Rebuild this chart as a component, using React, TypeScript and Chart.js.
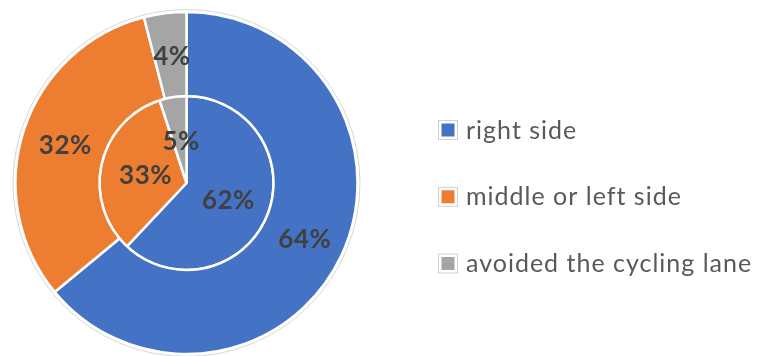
import React, { useEffect, useRef } from "react";
import { Chart, registerables } from "chart.js";

Chart.register(...registerables);

const categories = ["right side", "middle or left side", "avoided the cycling lane"];
const outerValues = [64, 32, 4];
const innerValues = [62, 33, 5];
const colors = ["#4472C4", "#ED7D31", "#A5A5A5"];

const W = 761;
const H = 356;

const labelPlugin = {
  id: "pctLabels",
  afterDatasetsDraw(chart: any) {
    const ctx = chart.ctx;
    ctx.save();
    // faint outer outline
    const meta0 = chart.getDatasetMeta(0);
    const a0 = meta0.data[0];
    if (a0) {
      ctx.beginPath();
      ctx.strokeStyle = "rgba(205,205,205,0.8)";
      ctx.lineWidth = 1;
      ctx.arc(a0.x, a0.y, a0.outerRadius + 2.5, 0, Math.PI * 2);
      ctx.stroke();
    }
    ctx.font = "bold 26px Lato, 'Open Sans', sans-serif";
    try { (ctx as any).letterSpacing = "0.5px"; } catch (e) {}
    ctx.fillStyle = "#404040";
    ctx.textAlign = "center";
    ctx.textBaseline = "middle";
    chart.data.datasets.forEach((ds: any, di: number) => {
      const meta = chart.getDatasetMeta(di);
      meta.data.forEach((arc: any, i: number) => {
        const p = arc.tooltipPosition();
        ctx.fillText(ds.data[i] + "%", p.x + 1.5, p.y + 2);
      });
    });
    ctx.restore();
  },
};

const legendPlugin = {
  id: "sideLegend",
  afterDraw(chart: any) {
    const ctx = chart.ctx;
    ctx.save();
    const rows = [130, 196.8, 263.5];
    const x0 = 438.5;
    chart.data.labels.forEach((lab: string, i: number) => {
      const cy = rows[i];
      ctx.fillStyle = "#ffffff";
      ctx.fillRect(x0, cy - 9.5, 19, 19);
      ctx.strokeStyle = "#d0d0d0";
      ctx.lineWidth = 1;
      ctx.strokeRect(x0, cy - 9.5, 19, 19);
      ctx.fillStyle = colors[i];
      ctx.fillRect(x0 + 3, cy - 6.5, 13, 13);
      ctx.fillStyle = "#595959";
      ctx.font = "25px Lato, 'Open Sans', sans-serif";
      try { (ctx as any).letterSpacing = "1px"; } catch (e) {}
      ctx.textAlign = "left";
      ctx.textBaseline = "alphabetic";
      ctx.fillText(lab, 466, cy + 8.5);
    });
    ctx.restore();
  },
};

export default function App() {
  const ref = useRef<HTMLCanvasElement>(null);
  useEffect(() => {
    document.body.style.margin = "0";
    const chart = new Chart(ref.current as HTMLCanvasElement, {
      type: "doughnut",
      data: {
        labels: categories,
        datasets: [
          {
            data: outerValues,
            backgroundColor: colors,
            borderColor: "#ffffff",
            borderWidth: 2.5,
            weight: 84,
          },
          {
            data: innerValues,
            backgroundColor: colors,
            borderColor: "#ffffff",
            borderWidth: 2.5,
            weight: 87,
          },
        ],
      },
      options: {
        responsive: false,
        animation: false,
        cutout: 0,
        radius: 171,
        layout: { padding: { left: 0, right: 388, top: 10, bottom: 0 } },
        plugins: {
          legend: { display: false },
          tooltip: { enabled: false },
        },
      } as any,
      plugins: [labelPlugin, legendPlugin],
    });
    return () => chart.destroy();
  }, []);
  return (
    <div style={{ position: "absolute", left: 0, top: 0, width: W, height: H, background: "#fff" }}>
      <canvas ref={ref} width={W} height={H} style={{ width: W, height: H, display: "block" }} />
    </div>
  );
}
